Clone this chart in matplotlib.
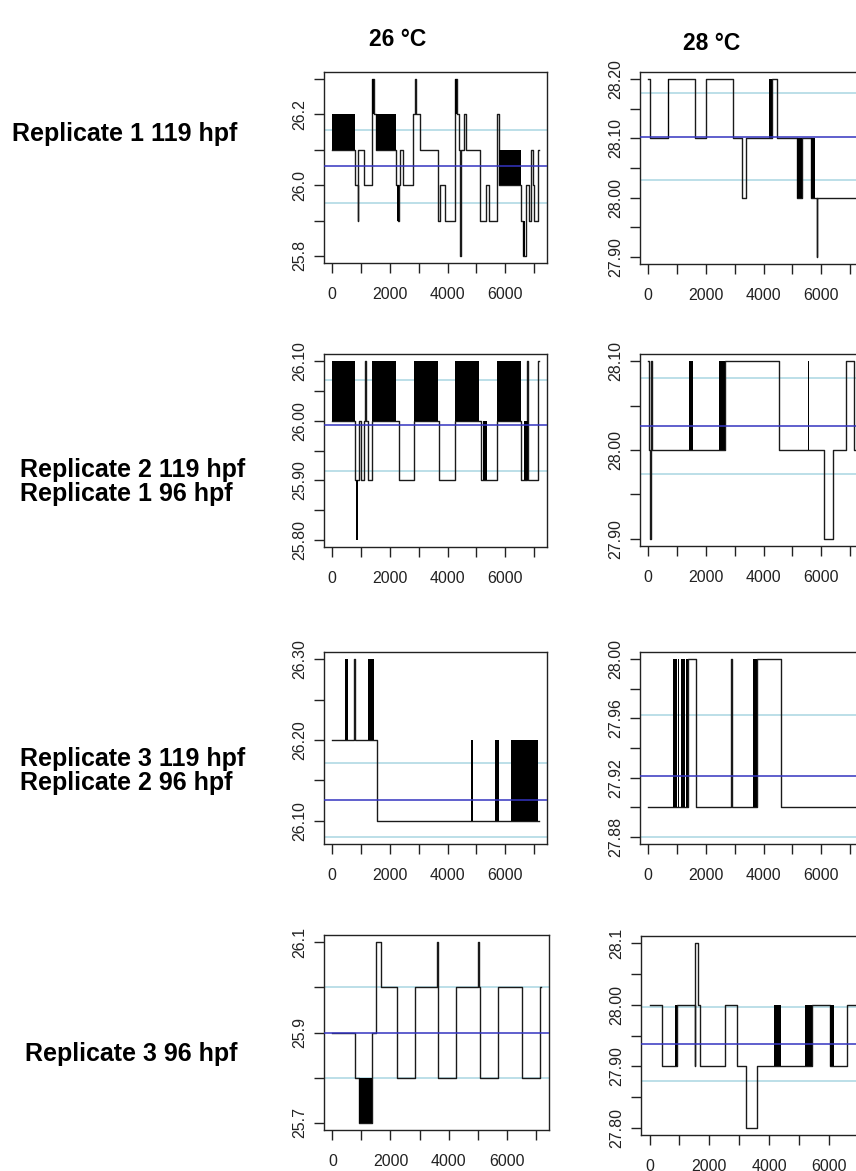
import numpy as np
import matplotlib
matplotlib.use('Agg')
import matplotlib.pyplot as plt

plt.rcParams['font.family'] = ['Liberation Sans', 'DejaVu Sans']

# step traces: change times (s) and temperature after each change
r1_26_t = [0, 780, 880, 910, 1095, 1386, 1456, 1515, 2213, 2280, 2330, 2353, 2470, 2796, 2854, 2900,
           3029, 3658, 3751, 3926, 4275, 4340, 4392, 4440, 4470, 4567, 4640, 5126, 5324, 5441, 5732,
           5790, 6547, 6606, 6722, 6820, 6900, 6950, 7000, 7130, 7165]
r1_26_v = [26.1, 26.0, 25.9, 26.1, 26.0, 26.3, 26.2, 26.1, 26.0, 25.9, 26.0, 26.1, 26.0, 26.2, 26.3, 26.2,
           26.1, 25.9, 26.0, 25.9, 26.3, 26.2, 26.1, 25.8, 26.1, 26.2, 26.1, 25.9, 26.0, 25.9, 26.2,
           26.0, 25.9, 25.8, 26.0, 25.9, 26.1, 26.0, 25.9, 26.1, 26.1]
r1_26_blk = [(0, 780, 26.1, 26.2), (1386, 1456, 26.2, 26.3), (1515, 2213, 26.1, 26.2),
             (2250, 2330, 25.9, 26.0), (4275, 4340, 26.2, 26.3), (5790, 6547, 26.0, 26.1),
             (6606, 6687, 25.8, 25.9)]
r1_26_stat = (26.053, 0.103)

r1_28_t = [0, 60, 698, 1628, 2012, 2942, 3268, 3408, 4198, 4300, 4466, 5152, 5340, 5652, 5792, 5850, 5870, 7165]
r1_28_v = [28.2, 28.1, 28.2, 28.1, 28.2, 28.1, 28.0, 28.1, 28.1, 28.2, 28.1, 28.0, 28.1, 28.0, 28.0, 27.9, 28.0, 28.0]
r1_28_blk = [(680, 720, 28.1, 28.2), (4198, 4300, 28.1, 28.2), (5152, 5340, 28.0, 28.1), (5652, 5792, 28.0, 28.1)]
r1_28_stat = (28.103, 0.073)

r2_26_t = [0, 780, 920, 980, 1095, 1130, 1160, 1245, 1386, 2213, 2330, 2842, 3658, 3716, 4275, 5091,
           5149, 5709, 6547, 6770, 6800, 6873, 7130, 7165]
r2_26_v = [26.0, 25.9, 26.0, 25.9, 26.0, 26.1, 26.0, 25.9, 26.0, 26.0, 25.9, 26.0, 26.0, 25.9, 26.0, 26.0,
           25.9, 26.0, 25.9, 26.1, 25.9, 25.9, 26.1, 26.1]
r2_26_blk = [(0, 780, 26.0, 26.1), (820, 900, 25.8, 25.9), (1386, 2213, 26.0, 26.1), (2842, 3658, 26.0, 26.1),
             (4275, 5091, 26.0, 26.1), (5243, 5382, 25.9, 26.0), (5709, 6547, 26.0, 26.1),
             (6640, 6800, 25.9, 26.0)]
r2_26_stat = (25.992, 0.077)

r2_28_t = [0, 40, 60, 90, 140, 1420, 1560, 2466, 2650, 4547, 5536, 5594, 6082, 6408, 6850, 7129, 7165]
r2_28_v = [28.1, 28.0, 27.9, 28.1, 28.0, 28.0, 28.0, 28.0, 28.1, 28.0, 28.0, 28.0, 27.9, 28.0, 28.1, 28.0, 28.0]
r2_28_blk = [(1420, 1560, 28.0, 28.1), (2466, 2650, 28.0, 28.1), (5536, 5594, 28.0, 28.1)]
r2_28_stat = (28.027, 0.054)

r3_26_t = [0, 430, 550, 740, 775, 1245, 1456, 1538, 4800, 4893, 5638, 5790, 6198, 7130, 7165]
r3_26_v = [26.2, 26.2, 26.2, 26.3, 26.2, 26.2, 26.2, 26.1, 26.1, 26.1, 26.1, 26.1, 26.1, 26.1, 26.1]
r3_26_blk = [(430, 550, 26.2, 26.3), (1245, 1456, 26.2, 26.3), (4800, 4893, 26.1, 26.2),
             (5638, 5790, 26.1, 26.2), (6198, 7130, 26.1, 26.2)]
r3_26_stat = (26.126, 0.046)

r3_28_t = [0, 860, 1372, 1640, 2873, 2900, 3628, 3768, 4605, 7165]
r3_28_v = [27.9, 27.9, 28.0, 27.9, 28.0, 27.9, 27.9, 28.0, 27.9, 27.9]
r3_28_blk = [(860, 980, 27.9, 28.0), (1020, 1080, 27.9, 28.0), (1140, 1260, 27.9, 28.0),
             (1300, 1372, 27.9, 28.0), (3628, 3768, 27.9, 28.0)]
r3_28_stat = (27.921, 0.041)

r4_26_t = [0, 770, 920, 1376, 1514, 1663, 2214, 2845, 3610, 3640, 3648, 4267, 5020, 5050, 5070,
           5712, 6538, 7134, 7165]
r4_26_v = [25.9, 25.8, 25.7, 25.9, 26.1, 26.0, 25.8, 26.0, 26.1, 26.0, 25.8, 26.0, 26.1, 26.0, 25.8,
           26.0, 25.8, 26.0, 26.0]
r4_26_blk = [(920, 1376, 25.7, 25.8)]
r4_26_stat = (25.900, 0.100)

r4_28_t = [0, 413, 860, 916, 1508, 1530, 1608, 1698, 2536, 2927, 3228, 3597, 4178, 4401, 5216, 5440,
           6032, 6188, 6612, 7165]
r4_28_v = [28.0, 27.9, 27.9, 28.0, 27.9, 28.1, 28.0, 27.9, 28.0, 27.9, 27.8, 27.9, 27.9, 27.9, 27.9, 28.0,
           27.9, 27.9, 28.0, 28.0]
r4_28_blk = [(860, 916, 27.9, 28.0), (4178, 4401, 27.9, 28.0), (5216, 5440, 27.9, 28.0), (6032, 6188, 27.9, 28.0)]
r4_28_stat = (27.936, 0.060)

# y ticks and which of them carry a label
r1_26_yt = [25.8, 25.9, 26.0, 26.1, 26.2, 26.3]
r1_26_yl = ['25.8', '', '26.0', '', '26.2', '']
r1_28_yt = [27.90, 27.95, 28.00, 28.05, 28.10, 28.15, 28.20]
r1_28_yl = ['27.90', '', '28.00', '', '28.10', '', '28.20']
r2_26_yt = [25.80, 25.85, 25.90, 25.95, 26.00, 26.05, 26.10]
r2_26_yl = ['25.80', '', '25.90', '', '26.00', '', '26.10']
r2_28_yt = [27.90, 27.95, 28.00, 28.05, 28.10]
r2_28_yl = ['27.90', '', '28.00', '', '28.10']
r3_26_yt = [26.10, 26.15, 26.20, 26.25, 26.30]
r3_26_yl = ['26.10', '', '26.20', '', '26.30']
r3_28_yt = [27.88, 27.90, 27.92, 27.94, 27.96, 27.98, 28.00]
r3_28_yl = ['27.88', '', '27.92', '', '27.96', '', '28.00']
r4_26_yt = [25.7, 25.8, 25.9, 26.0, 26.1]
r4_26_yl = ['25.7', '', '25.9', '', '26.1']
r4_28_yt = [27.80, 27.85, 27.90, 27.95, 28.00, 28.05, 28.10]
r4_28_yl = ['27.80', '', '27.90', '', '28.00', '', '28.1']

x_ticks = [0, 1000, 2000, 3000, 4000, 5000, 6000, 7000]
x_labels = ['0', '', '2000', '', '4000', '', '6000', '']

col_titles = ['26 °C', '28 °C']
row_labels = ['Replicate 1 119 hpf',
              'Replicate 2 119 hpf\nReplicate 1 96 hpf',
              'Replicate 3 119 hpf\nReplicate 2 96 hpf',
              'Replicate 3 96 hpf']

W, H = 856, 1171
fig = plt.figure(figsize=(W / 100, H / 100), dpi=100)


def panel(box, t, v, blk, stat, yt, yl):
    l, top, r, b = box
    ax = fig.add_axes([l / W, 1 - b / H, (r - l) / W, (b - top) / H])
    ax.step(t, v, where='post', color='#1a1a1a', lw=1.0, zorder=3)
    for x0, x1, lo, hi in blk:
        ax.fill_between([x0, x1], [lo, lo], [hi, hi], color='black', lw=0, zorder=3)
    m, s = stat
    ax.axhline(m, color='#3434c0', lw=1.1, zorder=4)
    ax.axhline(m + s, color='#bcdfe8', lw=1.4, zorder=2)
    ax.axhline(m - s, color='#bcdfe8', lw=1.4, zorder=2)
    # R style 4% padding, y range also covers mean +/- sd
    x0, x1 = t[0], t[-1]
    ax.set_xlim(x0 - 0.04 * (x1 - x0), x1 + 0.04 * (x1 - x0))
    lo = min(min(v), m - s, min(b[2] for b in blk))
    hi = max(max(v), m + s, max(b[3] for b in blk))
    ax.set_ylim(lo - 0.04 * (hi - lo), hi + 0.04 * (hi - lo))
    ax.set_xticks(x_ticks, x_labels)
    ax.set_yticks(yt, yl, rotation=90, va='center')
    ax.tick_params(direction='out', length=7, width=1.0, color='#222222',
                   labelsize=11.5, labelcolor='#222222')
    ax.tick_params(axis='x', pad=10)
    ax.tick_params(axis='y', pad=5)
    for sp in ax.spines.values():
        sp.set_linewidth(1.0)
        sp.set_color('#222222')
    return ax


panel((324, 72, 547, 263), r1_26_t, r1_26_v, r1_26_blk, r1_26_stat, r1_26_yt, r1_26_yl)
panel((640, 72, 863, 264), r1_28_t, r1_28_v, r1_28_blk, r1_28_stat, r1_28_yt, r1_28_yl)
panel((324, 354, 547, 547), r2_26_t, r2_26_v, r2_26_blk, r2_26_stat, r2_26_yt, r2_26_yl)
panel((640, 354, 863, 546), r2_28_t, r2_28_v, r2_28_blk, r2_28_stat, r2_28_yt, r2_28_yl)
panel((324, 652, 547, 844), r3_26_t, r3_26_v, r3_26_blk, r3_26_stat, r3_26_yt, r3_26_yl)
panel((640, 652, 863, 844), r3_28_t, r3_28_v, r3_28_blk, r3_28_stat, r3_28_yt, r3_28_yl)
panel((324, 935, 549, 1130), r4_26_t, r4_26_v, r4_26_blk, r4_26_stat, r4_26_yt, r4_26_yl)
panel((641, 936, 872, 1135), r4_28_t, r4_28_v, r4_28_blk, r4_28_stat, r4_28_yt, r4_28_yl)

fig.text(398 / W, 1 - 40 / H, col_titles[0], ha='center', va='center', fontsize=16.5, weight='bold')
fig.text(712 / W, 1 - 43 / H, col_titles[1], ha='center', va='center', fontsize=16.5, weight='bold')

row_pos = [(12, 134), (20, 482), (20, 771), (25, 1054)]
for (x, y), lab in zip(row_pos, row_labels):
    fig.text(x / W, 1 - y / H, lab, ha='left', va='center', fontsize=18, weight='bold',
             linespacing=0.95)

fig.savefig('out.png', dpi=100)
